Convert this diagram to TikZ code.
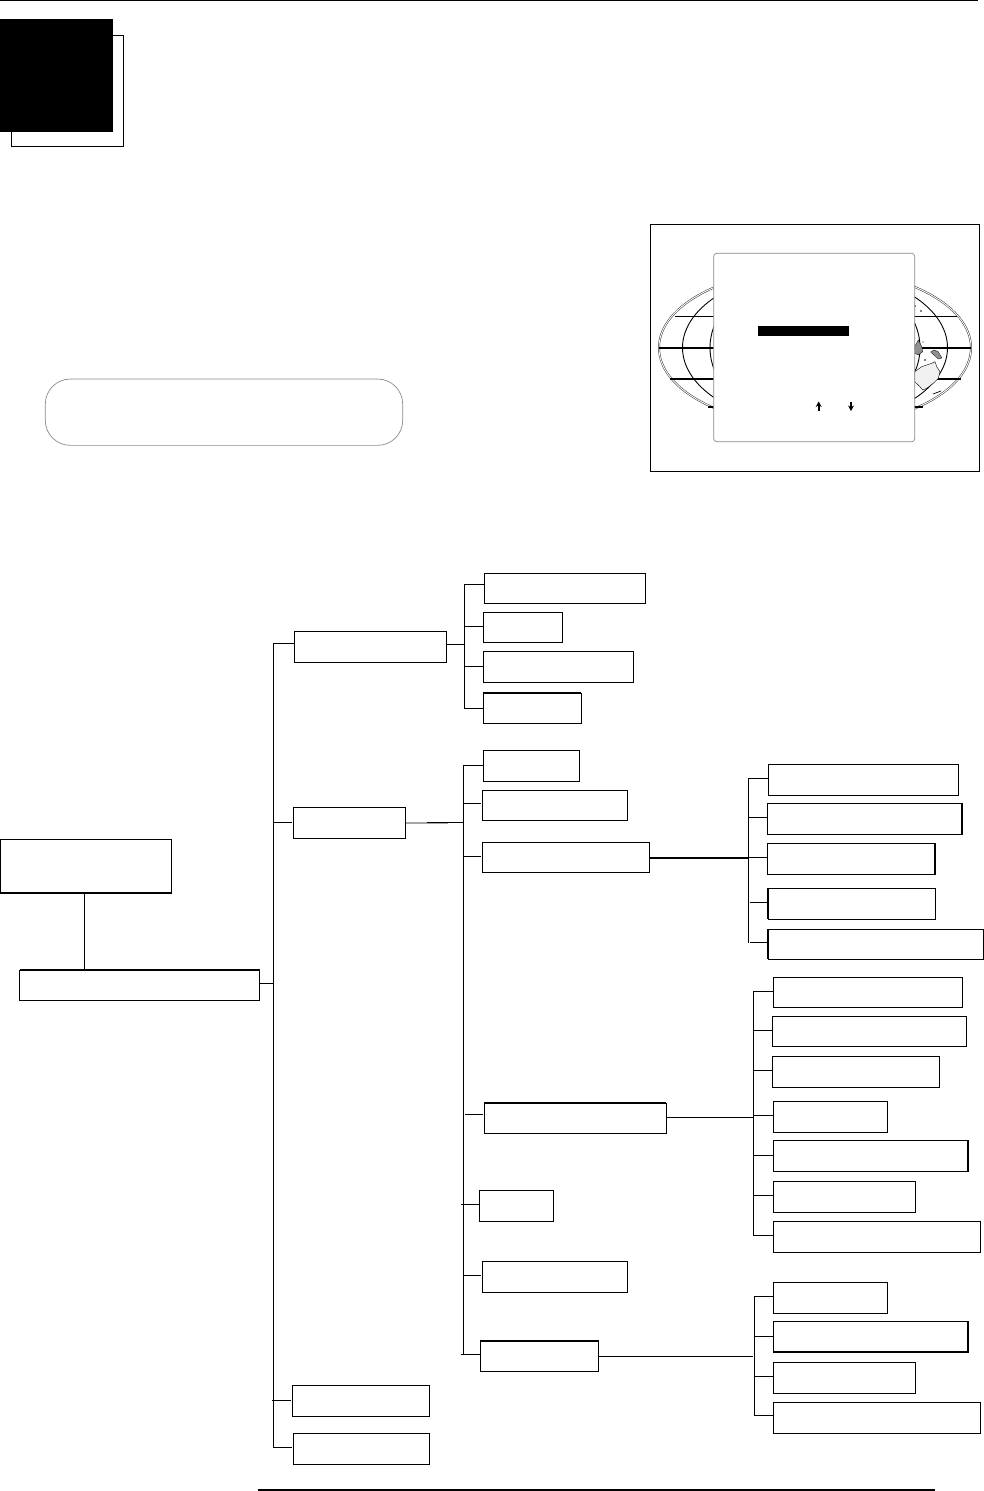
\documentclass[tikz,border=0pt]{standalone}
\usepackage{xcolor}
\usetikzlibrary{arrows.meta, positioning}
\definecolor{cdark}{HTML}{000000}
\definecolor{cframe}{HTML}{8A8A8A}
\definecolor{cland}{HTML}{F0F0F0}
\definecolor{cisle}{HTML}{909090}
\begin{document}
\begin{tikzpicture}[
    x=1pt, y=-1pt,
    box/.style={
        rectangle, draw=cdark, line width=0.9pt, fill=white, inner sep=0pt,
        outer sep=0pt
    },
    edge/.style={-, draw=cdark, line width=0.85pt},
    trunk/.style={edge, line cap=rect},
    heavy/.style={-, draw=cdark, line width=1.8pt, line cap=rect},
    panel/.style={
        rectangle, draw=cframe, line width=0.7pt, fill=white, inner sep=0pt,
        outer sep=0pt
    },
    parallel/.style={-, draw=cdark, line width=#1},
    globe/.style={draw=cdark!80, line width=0.5pt, double=white, double distance=0.9pt},
    meridian/.style={draw=cdark, line width=0.9pt},
    updown/.style={-{Stealth[length=5.5pt,width=6pt]}, draw=cdark, line width=1.7pt}
]
\useasboundingbox (0,0) rectangle (984,1491);

\draw[edge] (0,0.5) -- (978,0.5);
\draw[heavy, line cap=butt] (258,1490) -- (935,1490);

\node[box, minimum width=112.4, minimum height=111] (tabback) at (67.5,90.8) {};
\node[box, fill=black, draw=none, minimum width=113, minimum height=113] (tab) at (56.5,75.5) {};

\node[panel, rounded corners=25pt, minimum width=357.4, minimum height=66.3] (note) at (224,412.2) {};

\node[box, minimum width=329.4, minimum height=246.7] (frame) at (815,347.7) {};
\draw[globe] (815,347.7) ellipse [x radius=156, y radius=79];
\draw[meridian] (815,347.7) ellipse [x radius=132.5, y radius=77];
\draw[meridian] (815,347.7) ellipse [x radius=105, y radius=78];
\draw[parallel=0.8pt] (675,316.3) -- (956.7,316.3);
\draw[parallel=1.8pt] (659,348) -- (971,348);
\draw[parallel=1.6pt] (670,379) -- (961,379);
\draw[parallel=1.6pt] (708,407) -- (922.7,407);
\draw[fill=cland, draw=cdark, line width=0.4pt]
    (914.7,371.7) -- (921.7,366.7) -- (931.7,363.3) -- (935,361.7) -- (936.7,366.7) -- (940,371.7)
    -- (938.3,378.3) -- (933.3,383.3) -- (926.7,388.3) -- (922.7,390) -- (918.3,385) -- (914.7,381.7) -- cycle;
\draw[fill=cisle, draw=cdark, line width=0.3pt]
    (930.7,352) -- (934,350) -- (938,351.5) -- (942,358) -- (938,359) -- (935,356) -- cycle;
\draw[fill=cisle, draw=cdark, line width=0.3pt]
    (914.7,346.7) -- (918.3,340) -- (921.7,346.7) -- (922.7,351.7) -- (918.3,355) -- (914.7,353.3) -- cycle;
\draw[cdark, line width=0.7pt] (933,394) -- (941,391);
\fill[cdark] (915,306) circle [radius=0.8] (921,311) circle [radius=0.8] (923,342) circle [radius=0.7] (925,360) circle [radius=0.8];
\node[panel, rounded corners=3pt, minimum width=201, minimum height=188.4] (menu) at (814.2,347.5) {};
\node[box, fill=black, draw=none, minimum width=91.3, minimum height=10] (menubar) at (803.3,331) {};
\coordinate (upa) at (818.7,411);
\coordinate (upb) at (818.7,401.5);
\coordinate (dna) at (851,401.5);
\coordinate (dnb) at (851,411);
\draw[updown] (upa) -- (upb);
\draw[updown] (dna) -- (dnb);

\foreach \nm/\xl/\xr/\yt/\yb in {
    root/0.5/171.5/839.5/893, main/19.5/259.5/970/1000.5,
    g1/294.5/446.3/631.3/662.3, g2/293.3/405.7/807.3/838.3,
    g3/292.3/429.7/1385.3/1416.3, g4/293.3/429.7/1433.3/1464.3,
    a1/484.3/645.3/573.3/603.3, a2/483.3/562.3/612.3/642.3,
    a3/483.3/633.3/651.3/682.3, a4/483.3/581.3/693/723.3,
    b1/483.3/579.3/750.3/781.3, b2/482.3/627.3/790.3/820.3,
    b3/482.3/649.7/842.3/872.3, b4/484.3/666.3/1103/1133.3,
    b5/479.3/553.3/1190.3/1221.3, b6/482.3/627.3/1261.3/1292.3,
    b7/480.3/598.3/1340.7/1371.3,
    c1/768.3/958.7/764.3/795.3, c2/767.3/962.3/803.3/834.3,
    c3/767.3/935.3/843.3/874.3, c4/768.3/935.3/888.3/919.3,
    c5/768.3/983.3/929.3/959.3,
    d1/773.3/962.3/977.3/1007.3, d2/772.3/966.7/1016.3/1046.3,
    d3/772.3/939.3/1056.3/1087.3, d4/773.3/887.3/1101.3/1132.3,
    d5/773.3/968.2/1140.3/1171.3, d6/773.3/915.3/1181.3/1212.3,
    d7/773.3/980.3/1221.3/1252.3,
    e1/773.3/887.3/1282.3/1313.3, e2/773.3/968.2/1321.3/1352,
    e3/773.3/915.3/1362.3/1393.3, e4/773.3/980.3/1402.3/1433.3}{
  \node[box, minimum width={\xr-\xl}, minimum height={\yb-\yt}] (\nm) at ({(\xl+\xr)/2},{(\yt+\yb)/2}) {};
}

\foreach \nm/\p/\q in {root/south west/south east, main/north west/north east,
                       a4/north west/north east, b4/north west/north east, b7/north west/north east,
                       c2/north east/south east, c3/north east/south east,
                       c4/north west/south west, c5/north west/south west,
                       d5/north east/south east, e2/north east/south east, e2/south west/south east}
  \draw[heavy, line width=1.9pt, line cap=butt] (\nm.\p) -- (\nm.\q);

\coordinate (rail0) at (273.5,643.5);
\coordinate (rail1) at (273.5,1447.3);
\coordinate (raila0) at (464.3,584.3);
\coordinate (raila1) at (464.3,708.3);
\coordinate (railb0) at (463.7,765.3);
\coordinate (railb1) at (463.7,1354.3);
\coordinate (railc0) at (748.7,778.3);
\coordinate (railc1) at (748.7,942.3);
\coordinate (raild0) at (753.8,991.3);
\coordinate (raild1) at (753.8,1235.3);
\coordinate (raile0) at (754.7,1296.3);
\coordinate (raile1) at (754.7,1415.3);
\foreach \a/\b in {rail0/rail1, raila0/raila1, railb0/railb1, railc0/railc1, raild0/raild1, raile0/raile1}
  \draw[trunk] (\a) -- (\b);

\draw[edge] (root.south -| 84.5,0) -- (main.north -| 84.5,0);
\draw[edge] (main.east |- 0,983.5) -- (rail0 |- 0,983.5);
\draw[edge] (g1.east |- 0,644.3) -- (raila0 |- 0,644.3);
\draw[edge, draw=gray!70, line width=1.2pt] (g2.east |- 0,823) -- (448,823);
\draw[edge] (427,822.3) -- (railb0 |- 0,822.3);
\draw[heavy] (b3.east |- 0,857.7) -- (746.7,857.7);
\draw[edge] (b4.east |- 0,1117.3) -- (raild0 |- 0,1117.3);
\draw[edge] (b7.east |- 0,1356.3) -- (752.7,1356.3);

\foreach \nm/\y/\g/\o/\r in {
    g1/643.5/0/0/rail0, g2/822.3/1.5/0/rail0, g3/1400.3/1.5/1.5/rail0, g4/1447.3/1.5/0/rail0,
    a1/584.3/0/0/raila0, a2/626.3/0/0/raila0, a3/666.3/0/0/raila0, a4/708.3/0/0/raila0,
    b1/765.3/0/0/railb0, b2/803.3/1.5/0/railb0, b3/856.3/1.5/0/railb0, b4/1114.3/1.5/-1.5/railb0,
    b5/1204.3/0/2.5/railb0, b6/1275.3/1.5/0/railb0, b7/1354.3/0/2.5/railb0,
    c1/778.3/0/0/railc0, c2/817.3/0/0/railc0, c3/857.3/0/0/railc0, c4/902.3/0/-1.5/railc0, c5/942.3/0/-1.5/railc0,
    d1/991.3/0/0/raild0, d2/1030.3/0/0/raild0, d3/1070.3/0/0/raild0, d4/1115.3/0/0/raild0,
    d5/1155.3/0/0/raild0, d6/1195.3/0/0/raild0, d7/1235.3/0/0/raild0,
    e1/1296.3/0/0/raile0, e2/1336.3/0/0/raile0, e3/1376.3/0/0/raile0, e4/1415.3/0/0/raile0}
  \draw[edge, shorten <=\g pt, shorten >=-\o pt] (\nm.west |- 0,\y) -- (\r |- 0,\y);
\end{tikzpicture}
\end{document}
